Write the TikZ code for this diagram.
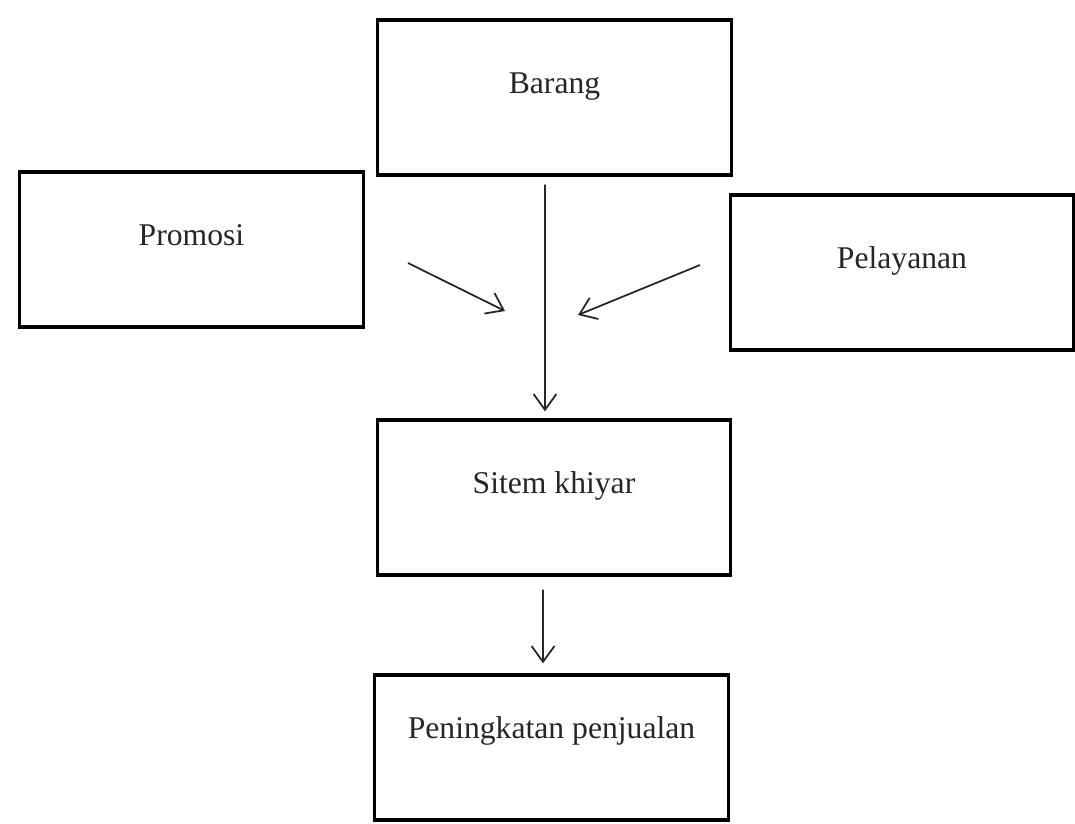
\documentclass[tikz,border=0pt]{standalone}
\usepackage{fontspec}
\setmainfont{Liberation Serif}
\usetikzlibrary{positioning, arrows.meta}

\begin{document}
\begin{tikzpicture}[
  x=0.01cm, y=-0.01cm,
  box/.style={rectangle, draw=black, fill=white, minimum width=3.53cm, minimum height=1.55cm, inner sep=0pt, text height=7pt, text depth=9.5pt, font=\fontsize{9}{11}\selectfont, text=black!85, line width=0.9pt},
  arrow/.style={-{Straight Barb[length=4.5pt, width=6.5pt]}, line width=0.5pt, black!85}
]
\useasboundingbox (0,0) rectangle (1075,824);

% Row 1: Barang
\node[box] (barang) at (554.5,97.5) {Barang};

% Row 2: Promosi + Pelayanan
\node[box, minimum width=3.43cm] (promosi) at (191.5,249.5) {Promosi};
\node[box, minimum width=3.43cm] (pelayanan) at (902,272.5) {Pelayanan};

% Row 3: Sitem khiyar
\node[box, minimum width=3.52cm] (sitem) at (554,497.5) {Sitem khiyar};

% Row 4: Peningkatan penjualan
\node[box, minimum height=1.45cm, text depth=12pt] (penjualan) at (551.5,747.5) {Peningkatan penjualan};

% Free ends of the side arrows
\coordinate (promosi-out) at (408,263);
\coordinate (promosi-in) at (505,311);
\coordinate (pelayanan-out) at (700,265);
\coordinate (pelayanan-in) at (578,315);

% Arrows
\draw[arrow, shorten <=0.08cm, shorten >=0.07cm] ([xshift=-0.095cm]barang.south) -- ([xshift=-0.09cm]sitem.north);
\draw[arrow] (promosi-out) -- (promosi-in);
\draw[arrow] (pelayanan-out) -- (pelayanan-in);
\draw[arrow, shorten <=0.13cm, shorten >=0.1cm] ([xshift=-0.11cm]sitem.south) -- ([xshift=-0.085cm]penjualan.north);

\end{tikzpicture}
\end{document}
